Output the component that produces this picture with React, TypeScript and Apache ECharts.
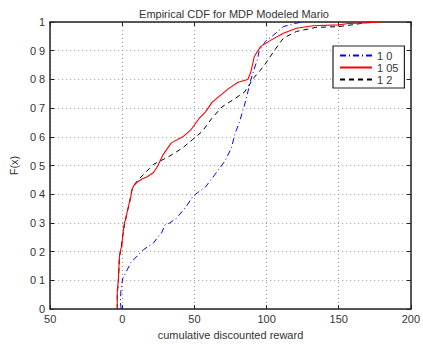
import React, { useEffect, useRef } from "react";
import * as echarts from "echarts";

const xTickLabels: Record<string, string> = { "-50": "50", "0": "0", "50": "50", "100": "100", "150": "150", "200": "200" };
const yTickLabels: string[] = ["0", "0 1", "0 2", "0 3", "0 4", "0 5", "0 6", "0 7", "0 8", "0 9", "1"];
const seriesNames: string[] = ["1 0", "1 05", "1 2"];

const blueData: number[][] = [
  [-0.8, 0], [-1.35, 0.025], [-0.9, 0.07], [0.2, 0.105], [2.5, 0.128], [5.9, 0.162], [10.3, 0.185],
  [14.9, 0.208], [21.6, 0.23], [25, 0.253], [27.2, 0.265], [29.5, 0.293], [32.9, 0.3], [37.4, 0.316],
  [44.1, 0.356], [48.6, 0.39], [52, 0.405], [57.6, 0.425], [64.4, 0.47], [71.2, 0.516], [75.7, 0.562],
  [77.9, 0.607], [81.3, 0.653], [84.7, 0.71], [87, 0.756], [89.2, 0.8], [91.4, 0.836], [93.7, 0.87],
  [94.8, 0.898], [99.3, 0.933], [105, 0.955], [111.7, 0.984], [119.6, 0.995], [125, 1],
];

const redData: number[][] = [
  [-3.5, 0], [-3.5, 0.06], [-2.7, 0.106], [-2, 0.185], [-1, 0.21], [-0.3, 0.22], [0.2, 0.253],
  [1.4, 0.3], [2.5, 0.315], [3.6, 0.345], [4.7, 0.367], [5.9, 0.39], [6.5, 0.414], [8, 0.43],
  [10.3, 0.442], [13.7, 0.453], [17, 0.46], [21.6, 0.476], [23.9, 0.493], [25, 0.504], [28.4, 0.539],
  [34, 0.579], [41.9, 0.6], [47.5, 0.624], [53.2, 0.664], [57.7, 0.687], [62.2, 0.72], [66.7, 0.739],
  [73.4, 0.767], [80.2, 0.79], [87, 0.8], [89, 0.824], [91.4, 0.878], [93.7, 0.898], [96, 0.915],
  [102.7, 0.936], [111.7, 0.961], [120.7, 0.978], [132, 0.987], [150, 0.99], [156.8, 0.995],
  [168, 0.997], [179, 1],
];

const blackData: number[][] = [
  [-3.5, 0], [-3.5, 0.05], [-2.7, 0.1], [-2, 0.18], [-1, 0.21], [0.2, 0.25], [1.4, 0.29], [2.5, 0.32],
  [4, 0.35], [5, 0.37], [6, 0.4], [7, 0.42], [8.5, 0.435], [11, 0.45], [16, 0.476], [21.6, 0.504],
  [32.9, 0.533], [41.9, 0.562], [48.6, 0.59], [55.4, 0.619], [62, 0.664], [69, 0.704], [78, 0.733],
  [84.7, 0.756], [91.4, 0.807], [98.2, 0.847], [105, 0.898], [111.7, 0.944], [120.7, 0.967],
  [134, 0.981], [150, 0.984], [159, 0.99], [172.5, 1],
];

const FONT = "Liberation Sans";

export default function App() {
  const ref = useRef<HTMLDivElement>(null);
  useEffect(() => {
    if (!ref.current) return;
    const chart = echarts.init(ref.current, undefined, { renderer: "svg" });
    const axisLine = { show: true, onZero: false, lineStyle: { color: "#222", width: 1.5 } };
    const axisTick = { show: true, inside: true, length: 4, lineStyle: { color: "#222" } };
    const gridLine = { show: true, lineStyle: { color: "#999", type: [1, 3] as any, width: 1 } };
    chart.setOption({
      animation: false,
      backgroundColor: "#fff",
      title: {
        text: "Empirical CDF for MDP Modeled Mario",
        left: 229,
        textAlign: "center",
        top: 3,
        textStyle: { fontFamily: FONT, fontSize: 11, fontWeight: "normal", color: "#333" },
      },
      legend: {
        data: seriesNames,
        orient: "vertical",
        left: 333,
        top: 46,
        padding: [4, 6, 3, 6],
        itemGap: 1,
        itemWidth: 32,
        itemHeight: 10,
        borderColor: "#222",
        borderWidth: 1.2,
        backgroundColor: "#fff",
        itemStyle: { opacity: 0 },
        textStyle: { fontFamily: FONT, fontSize: 11, color: "#333" },
      },
      grid: { left: 44, right: 9, top: 22, bottom: 31, show: false },
      xAxis: [
        {
          type: "value",
          min: -50,
          max: 200,
          interval: 50,
          name: "cumulative discounted reward",
          nameLocation: "middle",
          nameGap: 19,
          nameTextStyle: { fontFamily: FONT, fontSize: 11, color: "#333" },
          axisLine,
          axisTick,
          axisLabel: {
            fontFamily: FONT,
            fontSize: 11,
            color: "#333",
            margin: 4,
            formatter: (v: number) => xTickLabels[String(v)] ?? String(v),
          },
          splitLine: gridLine,
        },
        {
          type: "value",
          position: "top",
          min: -50,
          max: 200,
          interval: 50,
          axisLine,
          axisTick,
          axisLabel: { show: false },
          splitLine: { show: false },
        },
      ],
      yAxis: [
        {
          type: "value",
          min: 0,
          max: 1,
          interval: 0.1,
          name: "F(x)",
          nameLocation: "middle",
          nameGap: 26,
          nameRotate: 90,
          nameTextStyle: { fontFamily: FONT, fontSize: 11, color: "#333" },
          axisLine,
          axisTick,
          axisLabel: {
            fontFamily: FONT,
            fontSize: 11,
            color: "#333",
            margin: 5,
            formatter: (v: number) => yTickLabels[Math.round(v * 10)],
          },
          splitLine: gridLine,
        },
        {
          type: "value",
          position: "right",
          min: 0,
          max: 1,
          interval: 0.1,
          axisLine,
          axisTick,
          axisLabel: { show: false },
          splitLine: { show: false },
        },
      ],
      series: [
        {
          name: seriesNames[0],
          type: "line",
          data: blueData,
          showSymbol: false,
          symbol: "none",
          lineStyle: { color: "#0000ff", width: 1, type: [6, 3, 1, 3] },
          itemStyle: { color: "#0000ff" },
          z: 3,
        },
        {
          name: seriesNames[2],
          type: "line",
          data: blackData,
          showSymbol: false,
          symbol: "none",
          lineStyle: { color: "#000", width: 1, type: [5, 4] },
          itemStyle: { color: "#000" },
          z: 4,
        },
        {
          name: seriesNames[1],
          type: "line",
          data: redData,
          showSymbol: false,
          symbol: "none",
          lineStyle: { color: "#ff0000", width: 1.1, type: "solid" },
          itemStyle: { color: "#ff0000" },
          z: 5,
        },
      ],
    });
    return () => chart.dispose();
  }, []);
  return <div ref={ref} style={{ position: "fixed", left: 0, top: 0, width: 423, height: 345 }} />;
}
